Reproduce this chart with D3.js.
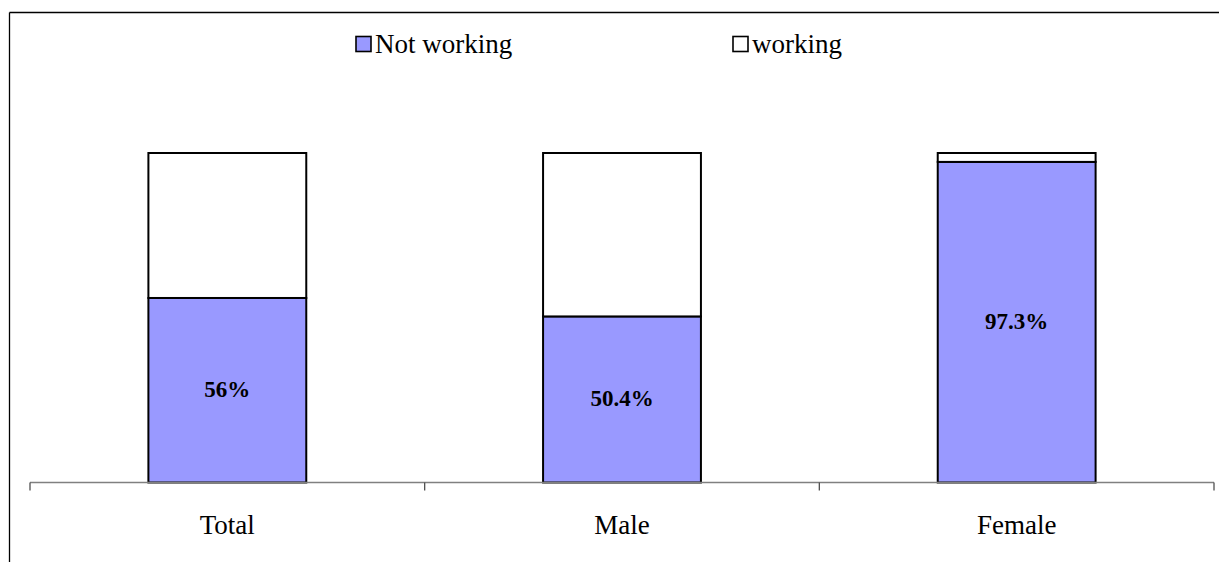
<!DOCTYPE html>
<html>
<head>
<meta charset="utf-8">
<script src="https://cdn.jsdelivr.net/npm/d3@7/dist/d3.min.js"></script>
<style>
  html, body { margin: 0; padding: 0; background: #fff; }
  svg { display: block; }
  svg text { font-family: "Liberation Serif", "Times New Roman", Times, serif; }
</style>
</head>
<body>
<svg id="chart" width="1219" height="562"></svg>
<script>
const categories = ["Total", "Male", "Female"];
const notWorking = [56, 50.4, 97.3];
const working = [44, 49.6, 2.7];
const labels = ["56%", "50.4%", "97.3%"];
const seriesNames = ["Not working", "working"];
const seriesColors = ["#9999FF", "#FFFFFF"];

const svg = d3.select("#chart");
const FONT = "Liberation Serif, Times New Roman, serif";

// outer frame lines (top and left)
svg.append("line").attr("x1", 9.5).attr("x2", 1219).attr("y1", 12.5).attr("y2", 12.5)
  .attr("stroke", "#000").attr("stroke-width", 1.3);
svg.append("line").attr("x1", 9.5).attr("x2", 9.5).attr("y1", 12.5).attr("y2", 562)
  .attr("stroke", "#000").attr("stroke-width", 1.3);

const x = d3.scaleBand().domain(categories).range([30, 1214]).padding(0);
const y = d3.scaleLinear().domain([0, 100]).range([482.5, 153]);

const barW = x.bandwidth() * 0.4;

const data = categories.map((c, i) => ({ cat: c, nw: notWorking[i], w: working[i], label: labels[i] }));

const stack = d3.stack().keys(["nw", "w"]);
const stacked = stack(data);

stacked.forEach((layer, li) => {
  svg.append("g").selectAll("rect").data(layer).join("rect")
    .attr("x", d => x(d.data.cat) + (x.bandwidth() - barW) / 2)
    .attr("y", d => y(d[1]))
    .attr("width", barW)
    .attr("height", d => y(d[0]) - y(d[1]))
    .attr("fill", seriesColors[li])
    .attr("stroke", "#000")
    .attr("stroke-width", 2);
});

// data labels
svg.append("g").selectAll("text").data(data).join("text")
  .attr("x", d => x(d.cat) + x.bandwidth() / 2)
  .attr("y", d => (y(0) + y(d.nw)) / 2)
  .attr("dy", "0.3em")
  .attr("text-anchor", "middle")
  .attr("font-family", FONT)
  .attr("font-weight", "bold")
  .attr("font-size", 23)
  .text(d => d.label);

// x axis
const axis = svg.append("g").attr("transform", `translate(0,${y(0)})`);
axis.append("line").attr("x1", 30).attr("x2", 1214).attr("y1", 0).attr("y2", 0)
  .attr("stroke", "#808080").attr("stroke-width", 1.5);
const tickPos = categories.map(c => x(c)).concat([x(categories[categories.length - 1]) + x.bandwidth()]);
axis.selectAll("line.tick").data(tickPos).join("line")
  .attr("class", "tick")
  .attr("x1", d => d).attr("x2", d => d).attr("y1", 0).attr("y2", 8)
  .attr("stroke", "#505050").attr("stroke-width", 1.3);
axis.selectAll("text").data(categories).join("text")
  .attr("x", d => x(d) + x.bandwidth() / 2)
  .attr("y", 51)
  .attr("text-anchor", "middle")
  .attr("font-family", FONT)
  .attr("font-size", 27)
  .text(d => d);

// legend
const legendX = [356, 733];
const legend = svg.append("g");
seriesNames.forEach((name, i) => {
  legend.append("rect")
    .attr("x", legendX[i]).attr("y", 36.5)
    .attr("width", 15).attr("height", 15)
    .attr("fill", seriesColors[i])
    .attr("stroke", "#000").attr("stroke-width", 1.6);
  legend.append("text")
    .attr("x", legendX[i] + 19).attr("y", 53)
    .attr("font-family", FONT)
    .attr("font-size", 27)
    .text(name);
});
</script>
</body>
</html>
